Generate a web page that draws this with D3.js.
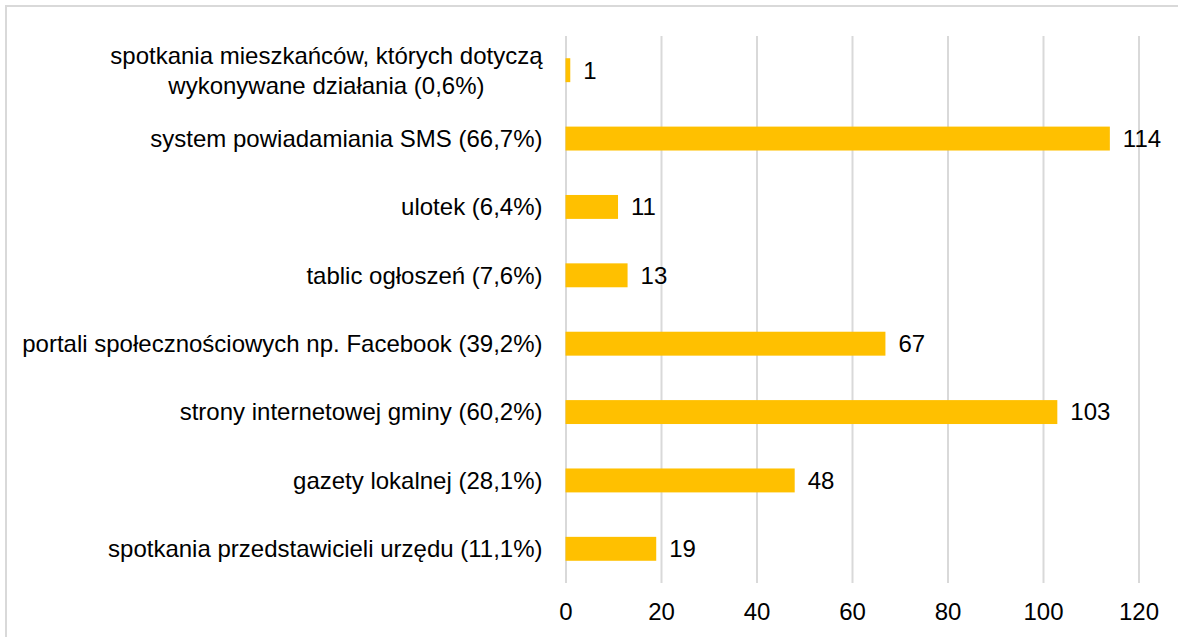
<!DOCTYPE html>
<html>
<head>
<meta charset="utf-8">
<script src="https://cdn.jsdelivr.net/npm/d3@7"></script>
<style>
  html, body { margin: 0; padding: 0; background: #fff; }
  svg { display: block; }
  text { font-family: "Liberation Sans", Arial, sans-serif; fill: #000; }
</style>
</head>
<body>
<svg id="chart" width="1178" height="637"></svg>
<script>
// Categories (top to bottom), each may span several lines
const categories = [
  ["spotkania mieszkańców, których dotyczą", "wykonywane działania (0,6%)"],
  ["system powiadamiania SMS (66,7%)"],
  ["ulotek (6,4%)"],
  ["tablic ogłoszeń (7,6%)"],
  ["portali społecznościowych np. Facebook (39,2%)"],
  ["strony internetowej gminy (60,2%)"],
  ["gazety lokalnej (28,1%)"],
  ["spotkania przedstawicieli urzędu (11,1%)"]
];
const values = [1, 114, 11, 13, 67, 103, 48, 19];
const xTicks = [0, 20, 40, 60, 80, 100, 120];

const svg = d3.select("#chart");
const W = 1178, H = 637;
const plot = { left: 565.5, right: 1138.5, top: 36, bottom: 583 };
const fontSize = 24;

// Chart frame
svg.append("rect")
  .attr("x", 6).attr("y", 6)
  .attr("width", W + 10).attr("height", H + 10)
  .attr("fill", "none")
  .attr("stroke", "#d9d9d9")
  .attr("stroke-width", 2);

const x = d3.scaleLinear().domain([0, 120]).range([plot.left, plot.right]);
const y = d3.scaleBand()
  .domain(d3.range(categories.length))
  .range([plot.top, plot.bottom])
  .paddingInner(0.65)
  .paddingOuter(0.325);

// Vertical gridlines via the axis
const grid = svg.append("g")
  .attr("transform", `translate(0,${plot.bottom})`)
  .call(d3.axisBottom(x).tickValues(xTicks).tickSize(-(plot.bottom - plot.top)).tickFormat(""));
grid.select(".domain").remove();
grid.selectAll(".tick line").attr("stroke", "#d9d9d9").attr("stroke-width", 2);

// Tick labels
const axis = svg.append("g")
  .attr("transform", `translate(0,${plot.bottom})`)
  .call(d3.axisBottom(x).tickValues(xTicks).tickSize(0).tickPadding(0).tickFormat(d3.format("d")));
axis.select(".domain").remove();
axis.selectAll(".tick text")
  .attr("font-size", fontSize)
  .attr("font-family", "Liberation Sans, Arial, sans-serif")
  .attr("fill", "#000")
  .attr("y", 29)
  .attr("dy", "0.35em");

// Bars
svg.append("g").selectAll("rect")
  .data(values)
  .join("rect")
  .attr("x", x(0))
  .attr("y", (d, i) => y(i))
  .attr("width", d => x(d) - x(0))
  .attr("height", y.bandwidth())
  .attr("fill", "#ffc000");

// Value labels
svg.append("g").selectAll("text")
  .data(values)
  .join("text")
  .attr("x", d => x(d) + 13)
  .attr("y", (d, i) => y(i) + y.bandwidth() / 2)
  .attr("dy", "0.35em")
  .attr("font-size", fontSize)
  .text(d => d);

// Category labels, multi-line labels centred as a block ending at the axis
const labelRight = plot.left - 23;
const lineH = 30;
categories.forEach((lines, i) => {
  const cy = y(i) + y.bandwidth() / 2;
  const g = svg.append("g");
  const texts = lines.map((line, k) => g.append("text")
    .attr("font-size", fontSize)
    .attr("y", cy + (k - (lines.length - 1) / 2) * lineH)
    .attr("dy", "0.35em")
    .text(line));
  const widths = texts.map(t => t.node().getComputedTextLength());
  const maxW = d3.max(widths);
  texts.forEach(t => t.attr("text-anchor", "middle").attr("x", labelRight - maxW / 2));
});
</script>
</body>
</html>
